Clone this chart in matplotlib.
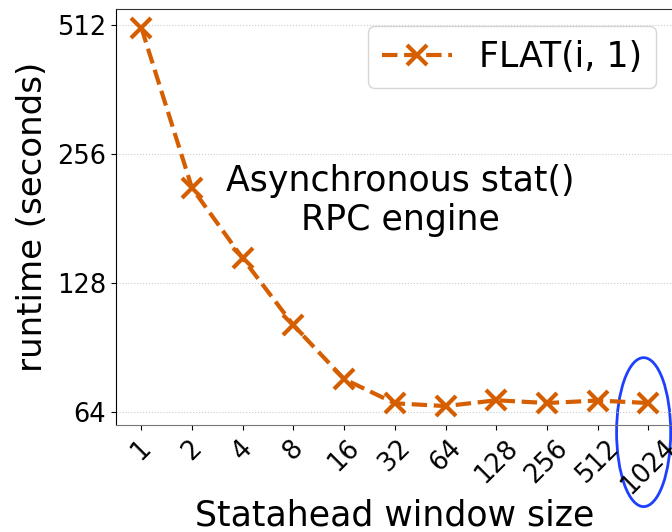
import matplotlib.pyplot as plt
from matplotlib.patches import Ellipse

# data
window_sizes = ["1", "2", "4", "8", "16", "32", "64", "128", "256", "512", "1024"]
runtime_flat = [504, 213, 146, 102, 76.4, 67.1, 66.1, 68.2, 67.2, 68.1, 67.2]
y_ticks = [64, 128, 256, 512]

fig = plt.figure(figsize=(6.72, 5.32), dpi=100)
ax = fig.add_axes([0.1726, 0.201, 0.83, 0.782])

x = list(range(len(window_sizes)))
ax.plot(x, runtime_flat, linestyle="--", color="#D55E00", linewidth=3,
        marker="x", markersize=14, markeredgewidth=3, label="FLAT(i, 1)")

ax.set_yscale("log", base=2)
ax.set_ylim(59.7, 557)
ax.set_yticks(y_ticks)
ax.set_yticklabels([str(t) for t in y_ticks])
ax.minorticks_off()
ax.set_xlim(-0.5, 10.5)
ax.set_xticks(x)
ax.set_xticklabels(window_sizes, rotation=45)
ax.tick_params(labelsize=18.5)
ax.grid(axis="y", linestyle=":", color="#cccccc", linewidth=0.8)

for side in ["top", "right"]:
    ax.spines[side].set_color("#333333")
ax.spines["bottom"].set_color("#777777")

ax.set_xlabel("Statahead window size", fontsize=25, labelpad=-1)
ax.set_ylabel("runtime (seconds)", fontsize=24.5, labelpad=6)

ax.text(0.51, 0.54, "Asynchronous stat()\nRPC engine", transform=ax.transAxes,
        ha="center", va="center", fontsize=25)

leg = ax.legend(loc="upper right", fontsize=25, handlelength=2)

# highlight the 1024 label
ax.add_patch(Ellipse((0.946, -0.017), 0.097, 0.358, transform=ax.transAxes,
                     fill=False, edgecolor="#1f3fff", linewidth=2, clip_on=False))

fig.savefig("out.png", dpi=100)
